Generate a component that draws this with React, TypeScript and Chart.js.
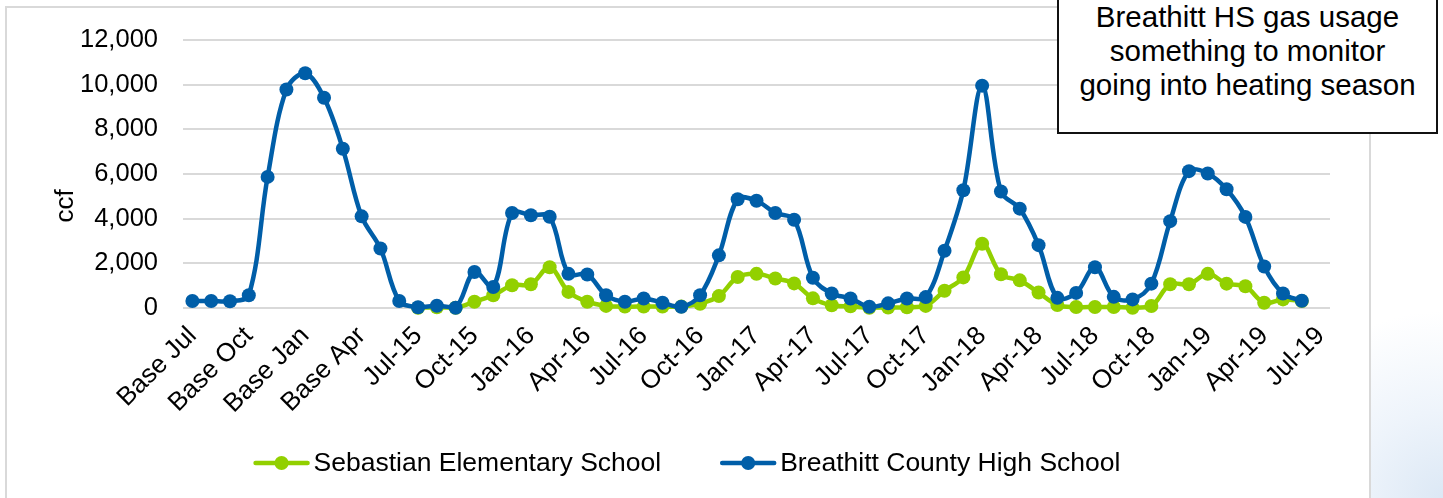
import React, { useEffect, useRef } from "react";
import { Chart, registerables } from "chart.js";

Chart.register(...registerables);

const categories = [
  "Base Jul", "Base Aug", "Base Sep", "Base Oct", "Base Nov", "Base Dec",
  "Base Jan", "Base Feb", "Base Mar", "Base Apr", "Base May", "Base Jun",
  "Jul-15", "Aug-15", "Sep-15", "Oct-15", "Nov-15", "Dec-15",
  "Jan-16", "Feb-16", "Mar-16", "Apr-16", "May-16", "Jun-16",
  "Jul-16", "Aug-16", "Sep-16", "Oct-16", "Nov-16", "Dec-16",
  "Jan-17", "Feb-17", "Mar-17", "Apr-17", "May-17", "Jun-17",
  "Jul-17", "Aug-17", "Sep-17", "Oct-17", "Nov-17", "Dec-17",
  "Jan-18", "Feb-18", "Mar-18", "Apr-18", "May-18", "Jun-18",
  "Jul-18", "Aug-18", "Sep-18", "Oct-18", "Nov-18", "Dec-18",
  "Jan-19", "Feb-19", "Mar-19", "Apr-19", "May-19", "Jun-19",
  "Jul-19",
];

const sebastian = [
  null, null, null, null, null, null, null, null, null, null, null, null,
  0, 20, 0, 270, 560, 1005,
  1050, 1815, 710, 270, 80, 50,
  50, 50, 50, 180, 520, 1375,
  1520, 1310, 1090, 420, 110, 60,
  0, 10, 20, 80, 760, 1360,
  2870, 1500, 1227, 680, 120, 30,
  30, 30, 0, 75, 1050, 1050,
  1520, 1080, 960, 222, 372, 300,
  null,
];

const breathitt = [
  300, 300, 290, 560, 5870, 9790,
  10520, 9420, 7130, 4100, 2660, 300,
  20, 90, 0, 1600, 930, 4250,
  4150, 4080, 1520, 1490, 560, 270,
  415, 220, 45, 560, 2350, 4870,
  4800, 4250, 3950, 1345, 640, 415,
  45, 195, 415, 475, 2555, 5270,
  9965, 5212, 4446, 2807, 443, 665,
  1816, 487, 372, 1080, 3884, 6129,
  6023, 5314, 4074, 1847, 637, 310,
  null,
];

const seriesNames = ["Sebastian Elementary School", "Breathitt County High School"];
const yAxisTitle = "ccf";
const noteLines = [
  "Breathitt HS gas usage",
  "something to monitor",
  "going into heating season",
];

const GREEN = "#92D000";
const BLUE = "#005EA8";
const FONT = "'Liberation Sans', Arial, sans-serif";

const overlayPlugin = {
  id: "overlayPlugin",
  afterDraw(chart: any) {
    const ctx = chart.ctx as CanvasRenderingContext2D;
    // y axis title
    ctx.save();
    ctx.font = `26px ${FONT}`;
    ctx.fillStyle = "#000";
    ctx.translate(66, 206);
    ctx.rotate(-Math.PI / 2);
    ctx.textAlign = "center";
    ctx.textBaseline = "middle";
    ctx.fillText(yAxisTitle, 0, 0);
    ctx.restore();

    // legend (line + marker)
    ctx.save();
    ctx.font = `26.5px ${FONT}`;
    const markerW = 56;
    const gap = 4;
    const itemGap = 59;
    const colors = [GREEN, BLUE];
    const widths = seriesNames.map((n) => ctx.measureText(n).width);
    const total = widths.reduce((a, w) => a + markerW + gap + w, 0) + itemGap * (seriesNames.length - 1);
    let x = 687 - total / 2;
    const y = 463;
    seriesNames.forEach((name, i) => {
      ctx.strokeStyle = colors[i];
      ctx.lineWidth = 4.5;
      ctx.lineCap = "round";
      ctx.beginPath();
      ctx.moveTo(x + 2, y);
      ctx.lineTo(x + markerW - 2, y);
      ctx.stroke();
      ctx.fillStyle = colors[i];
      ctx.beginPath();
      ctx.arc(x + markerW / 2, y, 7, 0, Math.PI * 2);
      ctx.fill();
      ctx.fillStyle = "#000";
      ctx.textAlign = "left";
      ctx.textBaseline = "middle";
      ctx.fillText(name, x + markerW + gap, y + 1);
      x += markerW + gap + widths[i] + itemGap;
    });
    ctx.restore();
  },
};

export default function App() {
  const canvasRef = useRef<HTMLCanvasElement | null>(null);

  useEffect(() => {
    if (!canvasRef.current) return;
    const chart = new Chart(canvasRef.current, {
      type: "line",
      data: {
        labels: categories,
        datasets: [
          {
            label: seriesNames[0],
            data: sebastian,
            borderColor: GREEN,
            backgroundColor: GREEN,
            pointBackgroundColor: GREEN,
            pointBorderWidth: 0,
            pointRadius: 7,
            borderWidth: 4.5,
            tension: 0.35,
            fill: false,
            clip: false as any,
            order: 1,
          },
          {
            label: seriesNames[1],
            data: breathitt,
            borderColor: BLUE,
            backgroundColor: BLUE,
            pointBackgroundColor: BLUE,
            pointBorderWidth: 0,
            pointRadius: 7,
            borderWidth: 4.5,
            tension: 0.35,
            fill: false,
            clip: false as any,
            order: 0,
          },
        ],
      },
      options: {
        responsive: false,
        animation: false,
        devicePixelRatio: 1,
        layout: { padding: { left: 0, top: 36.7, right: 113, bottom: 0 } },
        plugins: {
          legend: { display: false },
          tooltip: { enabled: false },
          title: { display: false },
        },
        scales: {
          x: {
            type: "category",
            offset: true,
            grid: { display: false, drawTicks: false },
            border: { display: false },
            ticks: {
              autoSkip: false,
              maxRotation: 45,
              minRotation: 45,
              padding: 13,
              color: "#000",
              font: { family: FONT, size: 26 },
              callback: (_v: any, i: number) => (i % 3 === 0 ? categories[i] : ""),
            },
            afterFit: (scale: any) => {
              scale.height = 190.3;
            },
          },
          y: {
            min: 0,
            max: 12000,
            grid: { color: "#D9D9D9", lineWidth: 2, drawTicks: false },
            border: { display: false },
            ticks: {
              stepSize: 2000,
              padding: 25,
              color: "#000",
              font: { family: FONT, size: 25.5 },
            },
            afterFit: (scale: any) => {
              scale.width = 183;
            },
          },
        },
      },
      plugins: [overlayPlugin],
    });
    return () => chart.destroy();
  }, []);

  return (
    <div style={{ position: "fixed", left: 0, top: 0, width: 1443, height: 498, overflow: "hidden", background: "#fff" }}>
      <div
        style={{
          position: "absolute",
          left: 1369,
          top: 260,
          width: 74,
          height: 238,
          background: "radial-gradient(circle at 100% 100%, #dce8f5 0%, #eef4fb 35%, #ffffff 75%)",
        }}
      />
      <div
        style={{
          position: "absolute",
          left: 5,
          top: 6,
          width: 1362,
          height: 520,
          border: "2px solid #D9D9D9",
          background: "#fff",
        }}
      />
      <canvas ref={canvasRef} width={1443} height={498} style={{ position: "absolute", left: 0, top: 0 }} />
      <div
        style={{
          position: "absolute",
          left: 1057,
          top: -3,
          width: 377,
          height: 132,
          border: "2px solid #111",
          background: "#fff",
          fontFamily: FONT,
          fontSize: 29.5,
          lineHeight: "34px",
          textAlign: "center",
          color: "#000",
          paddingTop: 1,
          boxSizing: "content-box",
        }}
      >
        {noteLines.map((l, i) => (
          <div key={i}>{l}</div>
        ))}
      </div>
    </div>
  );
}
